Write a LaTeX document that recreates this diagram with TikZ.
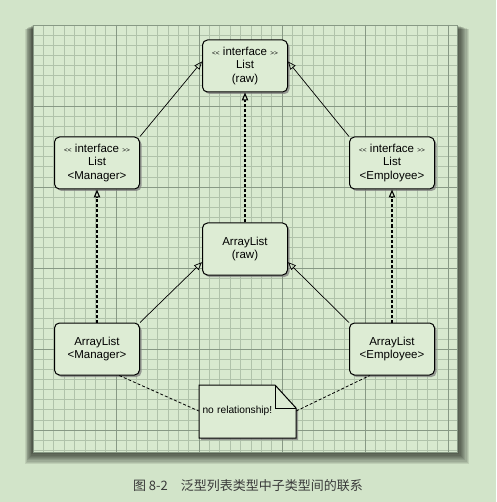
\documentclass[tikz,border=0pt]{standalone}
\usepackage{fontspec}
\setmainfont{Liberation Sans}
\newfontfamily\cjk{Noto Sans CJK SC}
\usetikzlibrary{arrows.meta,shadows}
\definecolor{pagegreen}{HTML}{D2E4C9}
\definecolor{panelgreen}{HTML}{D8E9CF}
\definecolor{boxgreen}{HTML}{DDECD4}
\definecolor{gridminor}{HTML}{B0C2AA}
\definecolor{gridmajor}{HTML}{889985}
\definecolor{captiongray}{HTML}{3A3A3A}
\newcommand{\guil}[1]{{\fontsize{6.5}{6}\selectfont#1}}

\begin{document}
\begin{tikzpicture}[x=1pt,y=-1pt,>={Triangle[open,length=8pt,width=6.5pt]},
    cls/.style={draw,line width=1pt,rounded corners=5pt,fill=boxgreen,
      minimum width=85pt,minimum height=52pt,align=center,
      font=\fontsize{11.5}{13.5}\selectfont,
      drop shadow={shadow xshift=2pt,shadow yshift=-2pt,opacity=.75}},
    realize/.style={->,line width=1.1pt,dash pattern=on 3pt off 2pt},
    inherit/.style={->,line width=.7pt},
    noteline/.style={line width=.8pt,dash pattern=on 3pt off 2pt}]
\useasboundingbox (0,0) rectangle (496,502);
\fill[pagegreen] (0,0) rectangle (496,502);
\foreach \k in {1,...,10}
    \fill[black,opacity=.09] ({33-\k*.8},{25+\k*.4}) rectangle ({457+\k*1.2},{452+\k*1.2});
\fill[panelgreen] (33,25) rectangle (457,452);
\foreach \i in {1,...,40}
    \draw[gridminor,line width=.6pt] ({33+\i*10.375},25)--({33+\i*10.375},452);
\foreach \j in {1,...,42}
    \draw[gridminor,line width=.6pt] (33,{25+\j*10.125})--(457,{25+\j*10.125});
\foreach \i in {1,...,5}
    \draw[gridmajor,line width=.8pt] ({33+\i*83},25)--({33+\i*83},452);
\foreach \j in {1,...,5}
    \draw[gridmajor,line width=.8pt] (33,{25+\j*81})--(457,{25+\j*81});
\draw[gridmajor,line width=.8pt] (33,25) rectangle (457,452);

\node[cls] (lraw) at (245,66){\guil{<{}<} interface \guil{>{}>}\\List\\(raw)};
\node[cls] (lman) at (97,163){\guil{<{}<} interface \guil{>{}>}\\List\\<Manager>};
\node[cls] (lemp) at (392,163){\guil{<{}<} interface \guil{>{}>}\\List\\<Employee>};
\node[cls] (araw) at (245,249){ArrayList\\(raw)};
\node[cls] (aman) at (97,349){ArrayList\\<Manager>};
\node[cls] (aemp) at (392,349){ArrayList\\<Employee>};

\draw[line width=1pt,fill=boxgreen,drop shadow={shadow xshift=2pt,shadow yshift=-2pt,opacity=.75}]
    (199,385)--(275,385)--(296,408)--(296,438)--(199,438)--cycle;
\draw[line width=1pt] (275,385)--(275,408)--(296,408);
\node[minimum height=53pt,text width=90pt,inner sep=3.5pt,align=left,
    font=\fontsize{10.2}{12}\selectfont] (note) at (247.5,411){no relationship!};

\draw[inherit] (lman.north east)--(lraw.174);
\draw[inherit] (lemp.north west)--(lraw.6);
\draw[inherit] (aman.north east)--(araw.197);
\draw[inherit] (aemp.north west)--(araw.-17);
\draw[realize] (aman.north)--(lman.south);
\draw[realize] (aemp.north)--(lemp.south);
\draw[realize] (araw.north)--(lraw.south);
\draw[noteline] (aman.-50)--(note.west);
\draw[noteline] (note.east)--(aemp.230);

\node[font=\cjk\fontsize{13}{13}\selectfont,text=captiongray] (caption) at (248,486)
    {图 8-2\quad 泛型列表类型中子类型间的联系};
\end{tikzpicture}
\end{document}
